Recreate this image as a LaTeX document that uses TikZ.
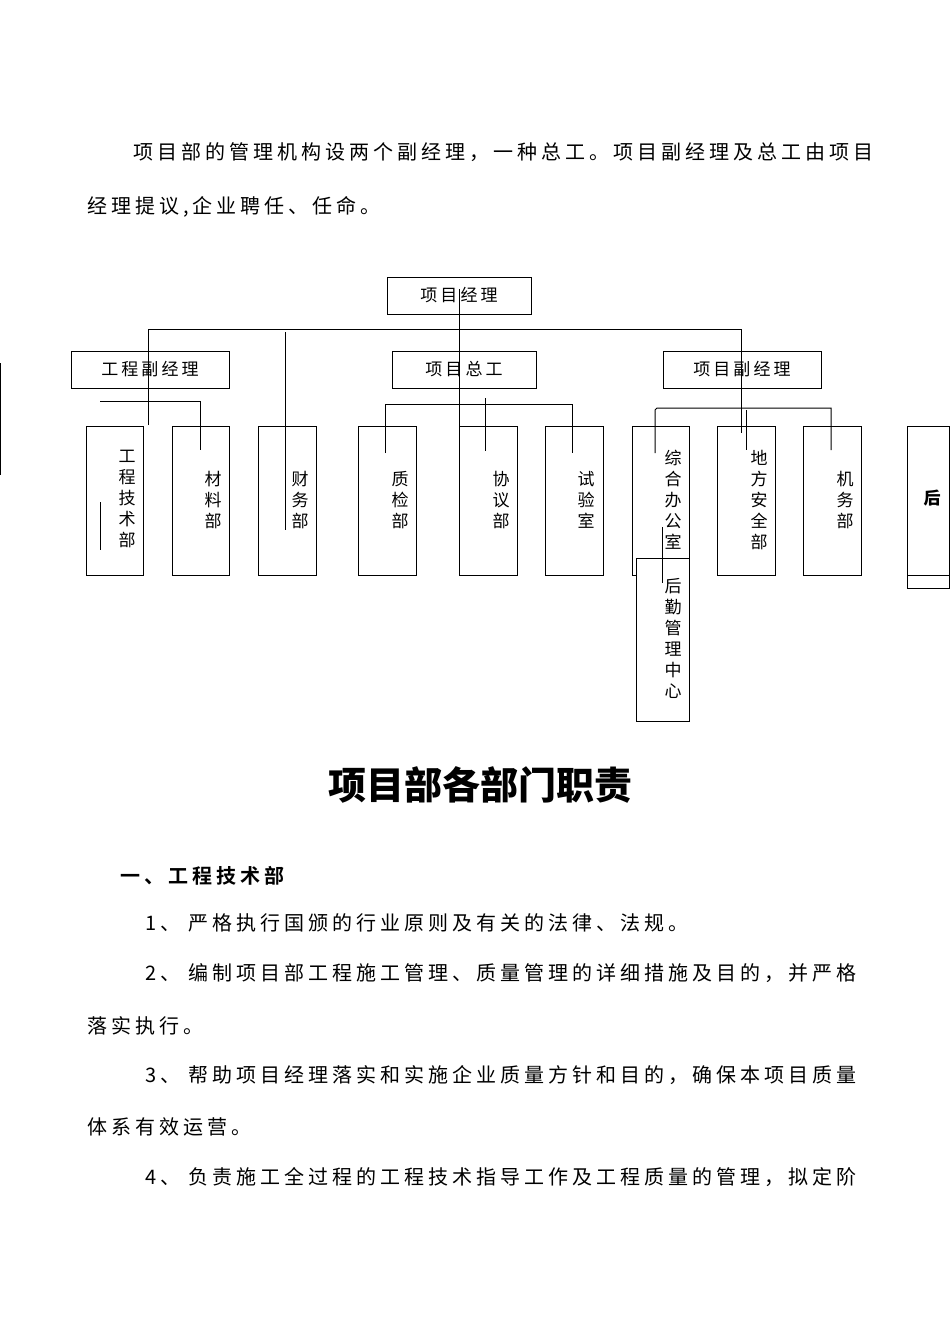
\documentclass[tikz,border=0pt]{standalone}
\usepackage{fontspec}
\setmainfont{Noto Sans CJK SC}
\newfontfamily\cjk{Noto Sans CJK SC}
\newfontfamily\spc[LetterSpace=20]{Noto Sans CJK SC}
\newfontfamily\spcb[LetterSpace=20]{Noto Sans CJK SC Bold}
\newfontfamily\spch[LetterSpace=18]{Noto Sans CJK SC}
\begin{document}
\begin{tikzpicture}[x=1pt,y=-1pt,
  bx/.style={draw,line width=1pt,inner sep=0pt},
  ln/.style={line width=1pt},
  vt/.style={font=\fontsize{17}{21}\selectfont,align=center,anchor=north,inner sep=0pt},
  ht/.style={font=\spch\fontsize{17}{20}\selectfont},
  body/.style={font=\spc\fontsize{20}{24}\selectfont,anchor=west,inner sep=0pt}]
\useasboundingbox (0,0) rectangle (950,1344);
% text
\node[body] (p1) at (133,152) {项目部的管理机构设两个副经理，一种总工。项目副经理及总工由项目};
\node[body] (p2) at (87,207) {经理提议,企业聘任、任命。};
% upper boxes
\node[bx,minimum width=144pt,minimum height=37pt,ht] (pm) at (459,295.5) {项目经理};
\node[bx,minimum width=158pt,minimum height=37pt,ht] (a) at (150,369.5) {工程副经理};
\node[bx,minimum width=144pt,minimum height=37pt,ht] (b) at (464,369.5) {项目总工};
\node[bx,minimum width=158pt,minimum height=37pt,ht] (c) at (742,369.5) {项目副经理};
% lower boxes
\foreach \n/\x/\w in {d1/86/57,d2/172/57,d3/258/58,d4/358/58,d5/459/58,d6/545/58,d7/632/57,d8/717/58,d9/803/58}{
  \draw[line width=1pt] (\x,426) rectangle ++(\w,149);
  \coordinate (\n) at (\x,426);
}
\draw[line width=1pt] (907,426) rectangle (949,575);
\draw[line width=1pt] (907,575) rectangle (949,588);
\draw[line width=1pt,fill=white] (636,558) rectangle (689,721);
\node[vt] (t1) at (127,450) {工\\程\\技\\术\\部};
\node[vt] (t2) at (213,471) {材\\料\\部};
\node[vt] (t3) at (300,471) {财\\务\\部};
\node[vt] (t4) at (400,471) {质\\检\\部};
\node[vt] (t5) at (501,471) {协\\议\\部};
\node[vt] (t6) at (586,471) {试\\验\\室};
\node[vt] (t7) at (673,450) {综\\合\\办\\公\\室};
\node[vt] (t8) at (759,450) {地\\方\\安\\全\\部};
\node[vt] (t9) at (845,471) {机\\务\\部};
\node[vt,font=\fontsize{17}{21}\selectfont\bfseries] (t10) at (932,490) {后};
\node[vt] (t11) at (673,578) {后\\勤\\管\\理\\中\\心};
% connectors
\draw[ln] (148,425) -- (148,329) -- (741,329) -- (741,433);
\draw[ln] (459,289) -- (459,426);
\draw[ln] (285,332) -- (285,530);
\draw[ln] (100,401) -- (200,401) -- (200,450);
\draw[ln] (385,453) -- (385,404) -- (572,404) -- (572,453);
\draw[ln] (485,398) -- (485,451);
\draw[ln] (655,453) -- (655,410) -- (657,408) -- (831,408) -- (831,450);
\draw[ln] (746,410) -- (746,450);
\draw[ln] (662,527) -- (662,583);
\draw[ln] (100,502) -- (100,550);
\draw[ln] (0,363) -- (0,475);
% lower text
\node[font=\fontsize{38}{40}\selectfont\bfseries,inner sep=0pt] (title) at (480,785) {项目部各部门职责};
\node[body,font=\spcb\fontsize{20}{24}\selectfont] (h1) at (120,876) {一、工程技术部};
\node[body] (q1) at (145,923) {1、\ 严格执行国颁的行业原则及有关的法律、法规。};
\node[body] (q2) at (145,973) {2、\ 编制项目部工程施工管理、质量管理的详细措施及目的，并严格};
\node[body] (q3) at (87,1026) {落实执行。};
\node[body] (q4) at (145,1075) {3、\ 帮助项目经理落实和实施企业质量方针和目的，确保本项目质量};
\node[body] (q5) at (87,1127) {体系有效运营。};
\node[body] (q6) at (145,1177) {4、\ 负责施工全过程的工程技术指导工作及工程质量的管理，拟定阶};
\end{tikzpicture}
\end{document}
